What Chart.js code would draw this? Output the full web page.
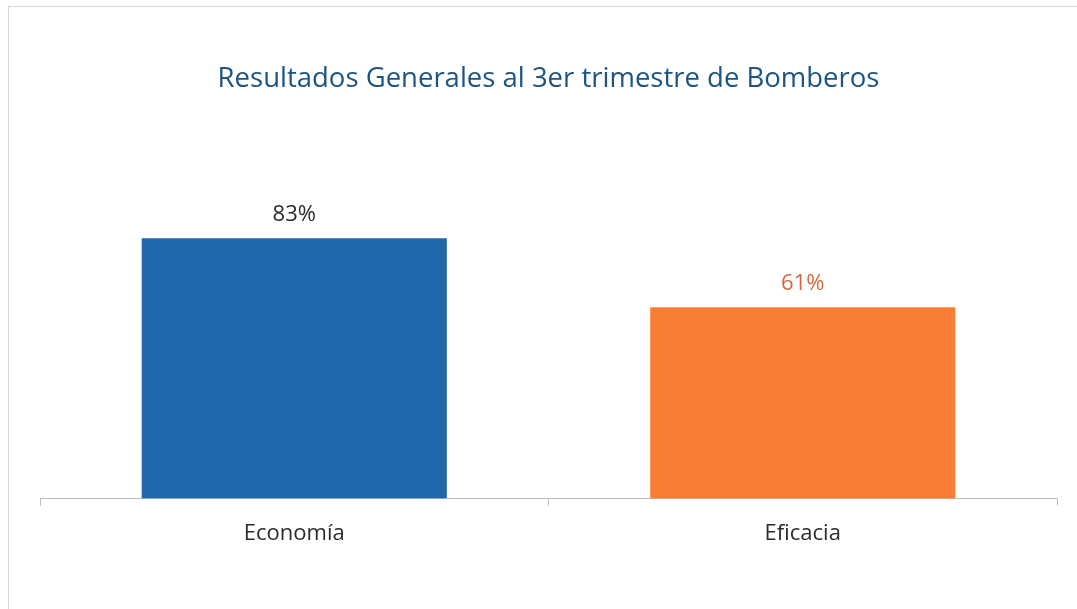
<!DOCTYPE html>
<html>
<head>
<meta charset="utf-8">
<script src="https://cdn.jsdelivr.net/npm/chart.js@4.4.1/dist/chart.umd.min.js"></script>
<style>
  html, body { margin: 0; padding: 0; background: #fff; }
  #wrap {
    position: absolute; left: 8px; top: 6px;
    width: 1080px; height: 610px;
    border-left: 1px solid #d6d6d6; border-top: 1px solid #d6d6d6;
  }
</style>
</head>
<body>
<div id="wrap"><canvas id="chart"></canvas></div>
<script>
const categories = ["Economía", "Eficacia"];
const values = [83, 61];
const valueLabels = ["83%", "61%"];
const barColors = ["#1f68ab", "#fb7d33"];
const labelColors = ["#2b2b2b", "#d2693a"];

// draw the value text above each bar
const barValueLabels = {
  id: "barValueLabels",
  afterDatasetsDraw(chart) {
    const { ctx } = chart;
    chart.getDatasetMeta(0).data.forEach((bar, i) => {
      ctx.save();
      ctx.font = "22px 'Open Sans', sans-serif";
      ctx.fillStyle = labelColors[i];
      ctx.textAlign = "center";
      ctx.textBaseline = "middle";
      ctx.fillText(valueLabels[i], bar.x, bar.y - 24);
      ctx.restore();
    });
  },
};

new Chart(document.getElementById("chart"), {
  type: "bar",
  data: {
    labels: categories,
    datasets: [{
      data: values,
      backgroundColor: barColors,
      borderWidth: 0,
      categoryPercentage: 1,
      barPercentage: 0.6,
    }],
  },
  options: {
    responsive: true,
    maintainAspectRatio: false,
    animation: false,
    layout: { padding: { left: 31, right: 32, top: 0, bottom: 55 } },
    plugins: {
      legend: { display: false },
      tooltip: { enabled: false },
      title: {
        display: true,
        text: "Resultados Generales al 3er trimestre de Bomberos",
        color: "#1d5480",
        font: { family: "'Open Sans', sans-serif", size: 27.5, weight: "normal", lineHeight: 1.2 },
        padding: { top: 56, bottom: 89 },
      },
    },
    scales: {
      x: {
        offset: true,
        grid: { display: true, drawOnChartArea: false, drawTicks: true, tickLength: 7, color: "#bdbdbd" },
        border: { display: true, color: "#bdbdbd" },
        ticks: { color: "#2b2b2b", padding: 15, font: { family: "'Open Sans', sans-serif", size: 22 } },
      },
      y: { display: false, min: 0, max: 100 },
    },
  },
  plugins: [barValueLabels],
});
</script>
</body>
</html>
